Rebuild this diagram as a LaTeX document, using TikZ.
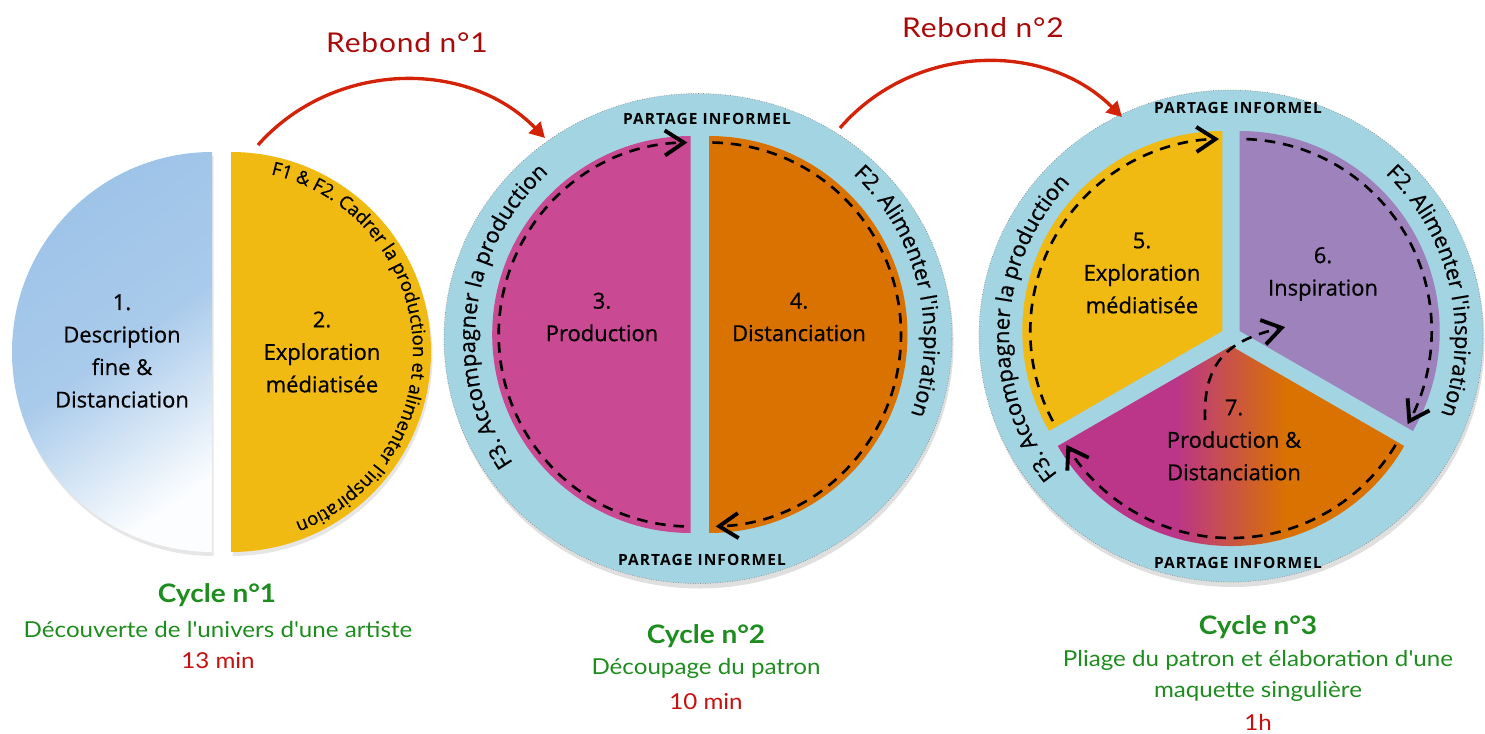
\documentclass[tikz,border=0pt]{standalone}
\usepackage{fontspec}
\usepackage{tikz}
\usetikzlibrary{arrows.meta,decorations.text,shadows,positioning,calc}
\setmainfont{Open Sans}
\newfontfamily\chalk[FakeBold=0.6]{Open Sans}
\newfontfamily\chalkcaps[LetterSpace=7]{Open Sans}
\newfontfamily\avenir[FakeStretch=1.1]{Lato}
\newfontfamily\rebondfont[FakeStretch=1.1,LetterSpace=3]{Lato}

\definecolor{ringblue}{RGB}{162,212,226}
\definecolor{halfblue}{RGB}{157,195,232}
\definecolor{gold}{RGB}{240,186,19}
\definecolor{rose}{RGB}{201,74,147}
\definecolor{rust}{RGB}{217,114,0}
\definecolor{lilac}{RGB}{158,130,188}
\definecolor{plum}{RGB}{187,53,137}
\definecolor{arrowred}{RGB}{212,34,8}
\definecolor{rebondred}{RGB}{170,10,10}
\definecolor{cyclegreen}{RGB}{30,140,30}
\definecolor{timered}{RGB}{200,16,16}

\pgfdeclarehorizontalshading{prodshade}{100bp}{color(0bp)=(plum); color(42bp)=(plum); color(58bp)=(rust); color(100bp)=(rust)}

\tikzset{
  stage/.style={font=\chalk\fontsize{12.5}{18.5}\selectfont, align=center, inner sep=0pt},
  partage/.style={font=\chalkcaps\bfseries\fontsize{8.8}{10}\selectfont, inner sep=0pt},
  ring/.style={fill=ringblue, draw=black!45, densely dotted, thin, drop shadow={shadow xshift=0.3mm, shadow yshift=-1mm, opacity=0.25}},
  halfdisc/.style={drop shadow={shadow xshift=0.3mm, shadow yshift=-0.8mm, opacity=0.2}},
  dashloop/.style={line width=1.5pt, dash pattern=on 6pt off 4.5pt, -{Straight Barb[length=3.8mm, width=5mm, line width'=2.2pt]}},
  rebond/.style={draw=arrowred, line width=1.9pt, -{Triangle[length=3mm, width=3.2mm]}},
  rebondlabel/.style={font=\rebondfont\fontsize{15.5}{18}\selectfont, text=rebondred},
  cyclehead/.style={font=\avenir\bfseries\fontsize{14.5}{17}\selectfont, text=cyclegreen},
  cycletext/.style={font=\avenir\fontsize{12.5}{15}\selectfont, text=cyclegreen},
  cycletime/.style={font=\avenir\fontsize{12.5}{15}\selectfont, text=timered},
  ringtext/.style={decorate, decoration={text along path, text align=center, text={|\chalk\fontsize{12.5}{15}\selectfont|#1}}},
  halftext/.style={decorate, decoration={text along path, text align=center, text={|\chalk\fontsize{10.5}{12}\selectfont|#1}}}
}

\begin{document}
\begin{tikzpicture}[x=0.02cm,y=0.02cm]
\useasboundingbox (0,0) rectangle (1485,-734);

%Centres
\coordinate (c1l) at (212,-352);
\coordinate (c1r) at (231,-352);
\coordinate (c2) at (698,-338.5);
\coordinate (c2l) at (690.7,-334.5);
\coordinate (c2r) at (709,-334.5);
\coordinate (c3) at (1231,-336);
\coordinate (c3a) at (1222.3,-331);
\coordinate (c3b) at (1239.7,-331);
\coordinate (c3c) at (1231,-346);

%Cycle 1
\shade[halfdisc, top color=halfblue, bottom color=halfblue!4!white, middle color=halfblue!88!white, shading angle=35] (c1l) ++(90:200) arc[start angle=90, end angle=270, radius=200] -- cycle;
\fill[halfdisc, gold] (c1r) ++(90:200) arc[start angle=90, end angle=-90, radius=200] -- cycle;
\path[halftext={F1 {\&} F2. Cadrer la production et alimenter l'inspiration}] ($(c1r)+(86:182)$) arc[start angle=86, end angle=-78, radius=182];
\node[stage] (desc) at (122,-351) {1.\\Description\\fine \&\\Distanciation};
\node[stage] (explo) at (322,-352) {2.\\Exploration\\médiatisée};

%Cycle 2
\draw[ring] (c2) ellipse[x radius=254, y radius=245];
\fill[rose] (c2l) ++(90:198.5) arc[start angle=90, end angle=270, radius=198.5] -- cycle;
\fill[rust] (c2r) ++(90:198.5) arc[start angle=90, end angle=-90, radius=198.5] -- cycle;
\draw[dashloop] ($(c2l)+(268:192)$) arc[start angle=268, end angle=91, radius=192];
\draw[dashloop] ($(c2r)+(89:192)$) arc[start angle=89, end angle=-88, radius=192];
\node[stage] (prod) at (602,-317) {3.\\Production};
\node[stage] (dist) at (799,-317) {4.\\Distanciation};
\node[partage] (share2top) at (707,-119) {PARTAGE INFORMEL};
\node[partage] (share2bot) at (702,-560) {PARTAGE INFORMEL};
\path[ringtext={F3. Accompagner la production}] ($(c2)+(226:223)$) arc[start angle=226, end angle=120, radius=223];
\path[ringtext={F2. Alimenter l'inspiration}] ($(c2)+(62:226)$) arc[start angle=62, end angle=-35, radius=226];

%Cycle 3
\draw[ring] (c3) ellipse[x radius=252, y radius=246];
\fill[gold] (c3a) -- ++(90:200) arc[start angle=90, end angle=210, radius=200] -- cycle;
\fill[lilac] (c3b) -- ++(-30:200) arc[start angle=-30, end angle=90, radius=200] -- cycle;
\shade[shading=prodshade] (c3c) -- ++(210:200) arc[start angle=210, end angle=330, radius=200] -- cycle;
\draw[dashloop] ($(c3a)+(208:192)$) arc[start angle=208, end angle=91, radius=192];
\draw[dashloop] ($(c3b)+(88:192)$) arc[start angle=88, end angle=-29, radius=192];
\draw[dashloop] ($(c3c)+(-31:192)$) arc[start angle=-31, end angle=-149, radius=192];
\draw[dashloop] (1205,-420) .. controls (1203,-360) and (1230,-340) .. (1285,-327);
\node[stage] (explo3) at (1142,-273) {5.\\Exploration\\médiatisée};
\node[stage] (insp) at (1323,-274) {6.\\Inspiration};
\node[stage] (prodist) at (1234,-440) {7.\\Production \&\\Distanciation};
\node[partage] (share3top) at (1238,-108) {PARTAGE INFORMEL};
\node[partage] (share3bot) at (1238,-563) {PARTAGE INFORMEL};
\path[ringtext={F3. Accompagner la production}] ($(c3)+(230:222)$) arc[start angle=230, end angle=125, radius=222];
\path[ringtext={F2. Alimenter l'inspiration}] ($(c3)+(60:224)$) arc[start angle=60, end angle=-34, radius=224];

%Rebonds
\coordinate (reb1from) at (258,-145);
\coordinate (reb1to) at (545,-138);
\coordinate (reb2from) at (840,-128);
\coordinate (reb2to) at (1122,-117);
\draw[rebond] (reb1from) to[bend left=47] (reb1to);
\draw[rebond] (reb2from) to[bend left=47] (reb2to);
\node[rebondlabel] (reb1) at (407,-43) {Rebond n°1};
\node[rebondlabel] (reb2) at (983,-28) {Rebond n°2};

%Captions
\node[cyclehead] (cyc1) at (217,-595) {Cycle n°1};
\node[cycletext] (cyc1txt) at (218,-629) {Découverte de l'univers d'une artiste};
\node[cycletime] (cyc1time) at (218,-661) {13 min};
\node[cyclehead] (cyc2) at (706,-636) {Cycle n°2};
\node[cycletext] (cyc2txt) at (706,-668) {Découpage du patron};
\node[cycletime] (cyc2time) at (706,-702) {10 min};
\node[cyclehead] (cyc3) at (1258,-627) {Cycle n°3};
\node[cycletext] (cyc3txt) at (1258,-660) {Pliage du patron et élaboration d'une};
\node[cycletext] (cyc3txt2) at (1258,-691) {maquette singulière};
\node[cycletime] (cyc3time) at (1258,-722) {1h};
\end{tikzpicture}
\end{document}
